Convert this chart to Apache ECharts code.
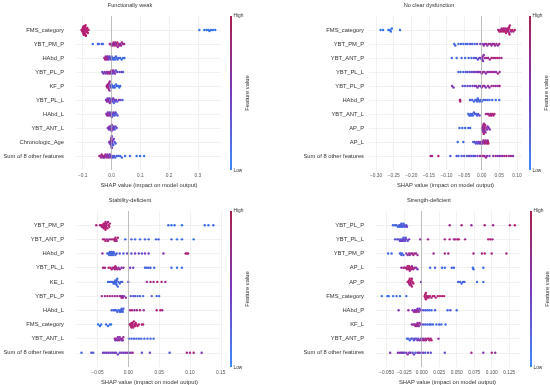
<!DOCTYPE html>
<html>
<head>
<meta charset="utf-8">
<script src="https://cdn.jsdelivr.net/npm/echarts@6/dist/echarts.min.js"></script>
<style>html,body{margin:0;padding:0;background:#fff}#c{width:550px;height:385px}</style>
</head>
<body>
<div id="c"></div>
<script>
// ---------- DATA ----------
const titles = ['Functionally weak', 'No clear dysfunction', 'Stability-deficient', 'Strength-deficient'];
const axisTitle = 'SHAP value (impact on model output)';

const fwFeatures = ['FMS_category','YBT_PM_P','HAbd_P','YBT_PL_P','KF_P','YBT_PL_L','HAbd_L','YBT_ANT_L','Chronologic_Age','Sum of 8 other features'];
const ncFeatures = ['FMS_category','YBT_PM_P','YBT_ANT_P','YBT_PL_L','YBT_PL_P','HAbd_P','YBT_ANT_L','AP_P','AP_L','Sum of 8 other features'];
const sdFeatures = ['YBT_PM_P','YBT_ANT_P','HAbd_P','YBT_PL_L','KE_L','YBT_PL_P','HAbd_L','FMS_category','YBT_ANT_L','Sum of 8 other features'];
const sfFeatures = ['YBT_PL_P','YBT_PL_L','YBT_PM_P','AP_L','AP_P','FMS_category','HAbd_P','KF_L','YBT_ANT_P','Sum of 8 other features'];

const fwTicks = [-0.1, 0, 0.1, 0.2, 0.3];
const ncTicks = [-0.30, -0.25, -0.20, -0.15, -0.10, -0.05, 0, 0.05, 0.10];
const sdTicks = [-0.05, 0, 0.05, 0.10, 0.15];
const sfTicks = [-0.050, -0.025, 0, 0.025, 0.050, 0.075, 0.100, 0.125];

// each row: [SHAP value, feature value (0 = low, 1 = high)]
const fwRows = [
 [[-0.104,1],[-0.102,1],[-0.101,1],[-0.1,1],[-0.1,0.9],[-0.099,1],[-0.098,1],[-0.098,0.9],[-0.097,1],[-0.096,1],[-0.096,1],[-0.095,1],[-0.095,0.9],[-0.094,1],[-0.094,1],[-0.093,1],[-0.093,1],[-0.092,1],[-0.092,0.9],[-0.091,1],[-0.09,1],[-0.09,1],[-0.089,1],[-0.088,1],[-0.087,0.9],[-0.086,1],[-0.085,1],[-0.084,1],[-0.082,1],[-0.08,1],
  [0.305,0],[0.322,0],[0.33,0.1],[0.336,0],[0.34,0],[0.345,0.1],[0.352,0],[0.36,0]],
 [[-0.065,0.1],[-0.047,0.15],[-0.044,0.1],[-0.034,0.2],[-0.03,0.1],[-0.006,0.7],[-0.003,0.8],[0,0.9],[0.002,0.6],[0.004,0.8],[0.007,1],[0.009,0.7],[0.011,0.9],[0.013,0.8],[0.016,0.6],[0.018,0.9],[0.02,1],[0.022,0.7],[0.025,0.8],[0.027,0.9],[0.03,0.6],[0.033,0.8],[0.036,0.9],[0.04,0.7],[0.044,0.8]],
 [[-0.025,0.8],[-0.022,0.9],[-0.02,0.7],[-0.018,0.9],[-0.016,0.8],[-0.014,0.6],[-0.012,0.7],[-0.01,0.5],[-0.008,0.4],[-0.005,0.3],[-0.002,0.3],[0,0.2],[0.003,0.2],[0.006,0.1],[0.009,0.2],[0.012,0.1],[0.015,0.2],[0.018,0.1],[0.021,0.1],[0.025,0.15],[0.03,0.1],[0.035,0.1],[0.04,0.05],[0.045,0.1]],
 [[-0.032,0.3],[-0.028,0.5],[-0.024,0.6],[-0.02,0.4],[-0.016,0.7],[-0.013,0.8],[-0.01,0.6],[-0.007,0.9],[-0.004,0.7],[-0.002,0.5],[0,0.8],[0.002,0.6],[0.004,0.4],[0.006,0.7],[0.009,0.5],[0.012,0.6],[0.015,0.3],[0.02,0.4],[0.028,0.3],[0.035,0.5],[0.04,0.2]],
 [[-0.017,0.8],[-0.015,0.9],[-0.013,1],[-0.012,0.8],[-0.011,0.9],[-0.01,0.7],[-0.009,0.9],[-0.008,0.8],[-0.007,0.6],[-0.006,0.7],[-0.004,0.4],[-0.002,0.3],[0,0.2],[0.003,0.1],[0.006,0.2],[0.009,0.1],[0.012,0.1],[0.015,0.15],[0.019,0.1],[0.023,0.1],[0.027,0.05],[0.03,0.1]],
 [[-0.019,0.5],[-0.016,0.7],[-0.014,0.4],[-0.012,0.8],[-0.01,0.6],[-0.008,0.5],[-0.006,0.7],[-0.004,0.3],[-0.002,0.6],[0,0.4],[0.002,0.5],[0.004,0.3],[0.006,0.6],[0.008,0.2],[0.01,0.4],[0.013,0.3],[0.016,0.5],[0.02,0.2],[0.026,0.6],[0.031,0.4],[0.038,0.2]],
 [[-0.018,0.6],[-0.015,0.7],[-0.013,0.5],[-0.011,0.8],[-0.009,0.6],[-0.007,0.4],[-0.005,0.7],[-0.003,0.5],[-0.001,0.3],[0.001,0.6],[0.003,0.4],[0.005,0.2],[0.007,0.5],[0.009,0.3],[0.011,0.2],[0.014,0.4],[0.017,0.2],[0.021,0.3]],
 [[-0.013,0.5],[-0.011,0.6],[-0.009,0.4],[-0.007,0.7],[-0.005,0.5],[-0.003,0.6],[-0.002,0.3],[0,0.5],[0.001,0.7],[0.003,0.4],[0.005,0.6],[0.007,0.3],[0.009,0.5],[0.011,0.2],[0.014,0.4],[0.018,0.3]],
 [[-0.008,0.6],[-0.006,0.5],[-0.004,0.7],[-0.003,0.4],[-0.002,0.6],[-0.001,0.5],[-0.001,0.8],[0,0.3],[0,0.6],[0.001,0.5],[0.001,0.4],[0.002,0.7],[0.003,0.3],[0.004,0.5],[0.006,0.2],[0.008,0.4],[0.011,0.3],[0.014,0.2]],
 [[-0.042,0.8],[-0.039,0.9],[-0.036,0.7],[-0.034,0.8],[-0.031,0.9],[-0.029,0.6],[-0.026,0.8],[-0.024,0.7],[-0.021,0.9],[-0.019,0.6],[-0.016,0.8],[-0.014,0.5],[-0.011,0.7],[-0.009,0.6],[-0.006,0.5],[-0.004,0.4],[-0.001,0.6],[0.002,0.3],[0.005,0.2],[0.009,0.3],[0.013,0.2],[0.018,0.1],[0.024,0.2],[0.03,0.1],[0.036,0.15],[0.047,0.1],[0.064,0.1],[0.087,0.05],[0.099,0.1],[0.113,0.05]]
];

const ncRows = [
 [[-0.287,0],[-0.28,0],[-0.265,0],[-0.26,0],[-0.258,0.1],[-0.255,0],[-0.232,0],
  [0.047,0.9],[0.05,1],[0.053,0.9],[0.055,1],[0.057,0.8],[0.059,1],[0.061,0.9],[0.063,1],[0.064,0.9],[0.066,1],[0.068,0.8],[0.069,1],[0.071,0.9],[0.072,1],[0.074,0.9],[0.075,1],[0.076,0.8],[0.077,1],[0.078,0.9],[0.078,1],[0.079,1],[0.08,0.9],[0.082,1],[0.084,0.8],[0.087,1],[0.09,0.9],[0.094,1]],
 [[-0.078,0.1],[-0.075,0.2],[-0.066,0.1],[-0.059,0.15],[-0.052,0.1],[-0.045,0.2],[-0.04,0.1],[-0.033,0.3],[-0.027,0.2],[-0.02,0.1],[-0.013,0.3],[-0.004,0.5],[0.003,0.6],[0.006,0.7],[0.009,0.5],[0.013,0.8],[0.016,0.6],[0.02,0.9],[0.025,0.7],[0.028,0.8],[0.031,0.6],[0.035,0.9],[0.038,0.7],[0.042,0.8],[0.046,0.6],[0.05,0.9]],
 [[-0.085,0.1],[-0.071,0.1],[-0.057,0.15],[-0.047,0.1],[-0.037,0.2],[-0.029,0.1],[-0.022,0.3],[-0.016,0.2],[-0.011,0.3],[-0.007,0.4],[-0.003,0.5],[0,0.4],[0.001,0.6],[0.002,0.5],[0.003,0.7],[0.004,0.5],[0.006,0.6],[0.009,0.8],[0.013,0.7],[0.018,0.9],[0.023,0.8],[0.028,1],[0.033,0.9],[0.038,0.8],[0.044,1],[0.05,0.9],[0.056,0.8]],
 [[-0.066,0.2],[-0.06,0.1],[-0.052,0.2],[-0.045,0.3],[-0.04,0.2],[-0.034,0.4],[-0.028,0.3],[-0.022,0.5],[-0.017,0.4],[-0.012,0.6],[-0.008,0.5],[-0.004,0.7],[0,0.6],[0.004,0.8],[0.008,0.7],[0.012,0.5],[0.016,0.8],[0.021,0.6],[0.026,0.9],[0.031,0.7],[0.036,0.8],[0.041,0.6],[0.046,0.9],[0.051,0.7]],
 [[-0.084,0.6],[-0.08,0.5],[-0.054,0.3],[-0.047,0.2],[-0.04,0.4],[-0.033,0.3],[-0.026,0.5],[-0.02,0.4],[-0.016,0.6],[-0.012,0.5],[-0.008,0.7],[-0.004,0.4],[0,0.6],[0.004,0.8],[0.008,0.7],[0.012,0.5],[0.018,0.8],[0.022,0.6],[0.028,0.9],[0.034,0.7],[0.04,0.8],[0.046,0.6],[0.051,0.9]],
 [[-0.062,1],[-0.061,0.9],[-0.061,1],[-0.033,0.1],[-0.027,0.2],[-0.022,0.1],[-0.018,0.15],[-0.015,0.1],[-0.013,0.2],[-0.011,0.1],[-0.009,0.15],[-0.006,0.1],[-0.003,0.2],[0,0.1],[0.005,0.15],[0.01,0.1],[0.016,0.2],[0.022,0.1],[0.03,0.15],[0.04,0.1],[0.05,0.1]],
 [[-0.038,0.1],[-0.035,0.2],[-0.032,0.1],[-0.03,0.15],[-0.027,0.2],[-0.025,0.1],[-0.022,0.2],[-0.019,0.3],[-0.016,0.1],[-0.013,0.2],[-0.01,0.3],[-0.006,0.4],[0.012,0.8],[0.016,0.9],[0.019,0.7],[0.022,1],[0.025,0.8],[0.027,0.9],[0.03,1],[0.033,0.8],[0.036,0.9]],
 [[-0.063,0.1],[-0.055,0.1],[-0.047,0.15],[-0.038,0.1],[-0.033,0.1],[0.001,0.6],[0.002,0.7],[0.003,0.8],[0.004,0.6],[0.005,0.9],[0.005,0.7],[0.006,0.8],[0.006,1],[0.007,0.7],[0.007,0.9],[0.008,0.8],[0.009,0.6],[0.01,0.9],[0.011,0.7],[0.013,0.8],[0.015,0.6],[0.017,0.7],[0.02,0.5],[0.023,0.6]],
 [[-0.068,0.1],[-0.052,0.1],[-0.024,0.2],[-0.02,0.3],[-0.017,0.2],[-0.014,0.4],[-0.011,0.3],[-0.008,0.5],[-0.005,0.4],[-0.003,0.6],[-0.001,0.5],[0.001,0.7],[0.003,0.6],[0.005,0.8],[0.007,0.7],[0.009,0.9],[0.011,0.8],[0.013,0.7],[0.015,0.9],[0.017,0.8],[0.018,0.9],[0.019,1]],
 [[-0.145,0.9],[-0.141,0.8],[-0.123,1],[-0.089,0.2],[-0.071,0.3],[-0.066,0.1],[-0.057,0.2],[-0.05,0.3],[-0.042,0.2],[-0.036,0.4],[-0.03,0.3],[-0.024,0.2],[-0.019,0.4],[-0.012,0.5],[-0.005,0.7],[0,0.8],[0.004,0.9],[0.008,0.7],[0.012,0.8],[0.015,0.6],[0.022,0.5],[0.033,0.6],[0.04,0.8],[0.046,0.5],[0.052,0.7],[0.058,0.6],[0.064,0.8],[0.07,0.9],[0.077,0.7],[0.083,0.8],[0.089,0.6]]
];

const sdRows = [
 [[-0.052,0.9],[-0.046,0.9],[-0.044,1],[-0.043,0.8],[-0.042,1],[-0.041,0.9],[-0.04,1],[-0.04,0.8],[-0.039,1],[-0.039,0.9],[-0.038,1],[-0.038,1],[-0.037,0.9],[-0.037,1],[-0.036,0.8],[-0.036,1],[-0.035,0.9],[-0.034,1],[-0.033,0.8],[-0.032,1],[-0.031,0.9],[-0.03,1],
  [0.065,0.1],[0.07,0],[0.075,0.1],[0.087,0],[0.124,0.1],[0.13,0],[0.138,0.1]],
 [[-0.041,0.8],[-0.039,0.9],[-0.037,1],[-0.035,0.8],[-0.033,0.9],[-0.031,0.7],[-0.028,0.9],[-0.025,1],[-0.023,0.8],[-0.022,1],[-0.021,0.9],[-0.02,1],[-0.019,0.8],[-0.017,0.9],[-0.005,0.1],[0.005,0.2],[0.011,0.1],[0.019,0.1],[0.027,0.2],[0.033,0.1],[0.045,0.1],[0.049,0.2],[0.07,0.1],[0.079,0],[0.087,0.1],[0.106,0]],
 [[-0.042,0.7],[-0.034,0.1],[-0.032,0.2],[-0.031,0.1],[-0.03,0.15],[-0.029,0.1],[-0.028,0.2],[-0.027,0.1],[-0.026,0.15],[-0.025,0.1],[-0.024,0.2],[-0.023,0.1],[-0.021,0.15],[-0.019,0.2],[-0.014,0.3],[-0.008,0.2],[-0.002,0.4],[0.005,0.3],[0.011,0.5],[0.017,0.4],[0.022,0.3],[0.027,0.5],[0.033,0.4],[0.057,0.6],[0.093,0.9],[0.095,1],[0.097,0.9]],
 [[-0.041,0.9],[-0.038,0.8],[-0.032,1],[-0.029,0.9],[-0.027,1],[-0.025,0.8],[-0.023,1],[-0.022,0.9],[-0.021,1],[-0.02,0.8],[-0.018,0.9],[-0.016,0.7],[-0.014,0.8],[-0.011,0.6],[-0.008,0.7],[0.003,0.5],[0.008,0.4],[0.027,0.1],[0.03,0.2],[0.033,0.1],[0.036,0.15],[0.042,0.1],[0.07,0.1],[0.079,0],[0.087,0.1]],
 [[-0.033,0.1],[-0.03,0.2],[-0.028,0.1],[-0.026,0.15],[-0.024,0.1],[-0.023,0.2],[-0.022,0.1],[-0.021,0.1],[-0.02,0.15],[-0.02,0.1],[-0.019,0.2],[-0.019,0.1],[-0.018,0.1],[-0.017,0.15],[-0.016,0.1],[-0.014,0.2],[-0.012,0.1],[-0.01,0.2],[0,0.3],[0.03,0.8],[0.036,0.9],[0.041,0.8],[0.047,1],[0.054,0.9],[0.06,0.8]],
 [[-0.043,0.8],[-0.038,0.7],[-0.034,0.9],[-0.03,0.8],[-0.026,0.7],[-0.022,0.9],[-0.018,0.6],[-0.014,0.8],[-0.012,0.7],[-0.011,0.9],[-0.01,0.6],[-0.009,0.8],[-0.007,0.5],[-0.004,0.7],[0.004,0.3],[0.008,0.2],[0.011,0.3],[0.015,0.1],[0.019,0.2],[0.024,0.1],[0.038,0.2],[0.046,0.1],[0.05,0.15]],
 [[-0.027,0.2],[-0.024,0.1],[-0.022,0.2],[-0.02,0.1],[-0.018,0.15],[-0.016,0.1],[-0.014,0.2],[-0.013,0.1],[-0.012,0.15],[-0.011,0.1],[-0.01,0.2],[-0.009,0.1],[-0.008,0.2],[0.003,0.8],[0.006,0.9],[0.01,0.7],[0.014,0.8],[0.019,0.9],[0.025,0.7],[0.046,0.9],[0.052,1],[0.055,0.8]],
 [[-0.049,0],[-0.046,0.1],[-0.044,0],[-0.036,0.1],[-0.033,0],[-0.03,0.1],[-0.028,0],[0.002,1],[0.003,0.9],[0.004,1],[0.005,1],[0.005,0.9],[0.006,1],[0.007,1],[0.007,0.9],[0.008,1],[0.009,1],[0.01,0.9],[0.011,1],[0.012,1],[0.013,0.9],[0.015,1],[0.017,1],[0.022,1],[0.024,0.9]],
 [[-0.022,0.7],[-0.021,0.5],[-0.02,0.8],[-0.018,0.6],[-0.017,0.7],[-0.016,0.5],[-0.015,0.8],[-0.014,0.6],[-0.012,0.7],[-0.011,0.5],[-0.01,0.8],[-0.009,0.6],[-0.008,0.7],[0.001,0.2],[0.005,0.1],[0.009,0.2],[0.013,0.1],[0.017,0.15],[0.021,0.1],[0.026,0.2],[0.031,0.1],[0.036,0.15],[0.041,0.1]],
 [[-0.076,0.1],[-0.06,0.3],[-0.057,0.2],[-0.041,0.5],[-0.038,0.3],[-0.035,0.6],[-0.032,0.4],[-0.029,0.5],[-0.026,0.3],[-0.023,0.6],[-0.02,0.4],[-0.017,0.5],[-0.014,0.3],[-0.011,0.6],[-0.008,0.4],[-0.005,0.5],[-0.002,0.7],[0.001,0.4],[0.004,0.6],[0.007,0.8],[0.022,0.3],[0.035,0.4],[0.067,0.2],[0.095,0.9],[0.1,0.8],[0.106,0.9],[0.119,0.6]]
];

const sfRows = [
 [[-0.041,0.1],[-0.038,0.2],[-0.036,0.1],[-0.034,0.15],[-0.032,0.2],[-0.031,0.1],[-0.03,0.3],[-0.029,0.1],[-0.029,0.2],[-0.028,0.15],[-0.027,0.2],[-0.026,0.1],[-0.025,0.3],[-0.024,0.2],[-0.022,0.3],[-0.021,0.4],[0.04,0.8],[0.057,0.9],[0.071,0.7],[0.09,0.9],[0.102,0.8],[0.126,0.9],[0.133,1]],
 [[-0.038,0.3],[-0.035,0.2],[-0.033,0.4],[-0.031,0.3],[-0.03,0.2],[-0.029,0.4],[-0.028,0.3],[-0.027,0.5],[-0.026,0.2],[-0.025,0.4],[-0.024,0.3],[-0.023,0.2],[-0.022,0.4],[-0.02,0.3],[-0.018,0.5],[-0.002,0.7],[0.009,0.8],[0.033,0.8],[0.04,0.9],[0.046,0.7],[0.048,0.9],[0.051,0.8],[0.053,1],[0.062,0.8],[0.095,0.9],[0.098,1],[0.101,0.8]],
 [[-0.048,0.1],[-0.043,0.1],[-0.031,0.2],[-0.03,0.1],[-0.029,0.2],[-0.028,0.1],[-0.026,0.2],[-0.022,0.6],[-0.02,0.7],[-0.018,0.8],[-0.017,0.6],[-0.015,0.9],[-0.013,0.7],[-0.012,0.8],[-0.01,0.9],[-0.008,0.7],[-0.006,0.8],[0.017,0.8],[0.033,0.9],[0.038,0.8],[0.074,0.9],[0.086,0.8],[0.09,1],[0.1,0.9],[0.121,0.9]],
 [[-0.029,0.7],[-0.026,0.9],[-0.024,0.8],[-0.022,1],[-0.021,0.9],[-0.02,0.8],[-0.019,1],[-0.018,0.9],[-0.018,1],[-0.017,0.8],[-0.016,1],[-0.015,0.9],[-0.014,0.7],[-0.013,1],[-0.012,0.8],[-0.01,0.9],[-0.008,0.6],[-0.006,0.5],[0.012,0.1],[0.019,0.2],[0.029,0.1],[0.033,0.1],[0.043,0.2],[0.046,0.1],[0.073,0],[0.074,0.1],[0.088,0.1]],
 [[-0.02,0.8],[-0.019,1],[-0.018,0.9],[-0.018,1],[-0.017,0.8],[-0.017,1],[-0.016,0.9],[-0.016,1],[-0.015,1],[-0.015,0.8],[-0.014,0.9],[-0.014,1],[-0.013,0.9],[-0.012,1],[-0.001,0.6],[0.052,0.1],[0.055,0.2],[0.057,0.1],[0.059,0.1],[0.061,0.2],[0.079,0.1],[0.088,0.1]],
 [[-0.057,0],[-0.049,0],[-0.047,0.1],[-0.041,0],[-0.036,0.1],[-0.031,0],[-0.022,0.1],[0.004,1],[0.005,0.9],[0.005,1],[0.006,1],[0.006,0.9],[0.007,1],[0.008,1],[0.009,0.9],[0.01,1],[0.012,1],[0.014,0.9],[0.016,1],[0.018,1],[0.02,0.9],[0.023,1],[0.026,1],[0.029,0.9],[0.032,1]],
 [[-0.033,0.6],[-0.019,0.7],[-0.013,0.6],[-0.011,0.8],[-0.01,0.5],[-0.009,0.7],[-0.008,0.6],[-0.007,0.9],[-0.006,0.5],[-0.005,0.7],[-0.004,0.6],[-0.003,0.4],[-0.001,0.5],[0.002,0.3],[0.005,0.2],[0.008,0.1],[0.011,0.2],[0.014,0.1],[0.019,0.15],[0.037,0.1],[0.041,0.2],[0.05,0.1]],
 [[-0.014,0.6],[-0.012,0.8],[-0.01,0.7],[-0.009,0.9],[-0.008,0.6],[-0.007,0.8],[-0.006,0.7],[-0.005,0.9],[-0.004,0.6],[-0.003,0.8],[-0.001,0.5],[0.002,0.3],[0.005,0.2],[0.008,0.1],[0.011,0.2],[0.013,0.1],[0.016,0.15],[0.021,0.1],[0.025,0.2],[0.028,0.1],[0.034,0.1]],
 [[-0.021,0.1],[-0.019,0.2],[-0.017,0.1],[-0.015,0.3],[-0.013,0.2],[-0.011,0.3],[-0.01,0.4],[-0.008,0.3],[-0.006,0.5],[-0.005,0.4],[-0.003,0.6],[-0.001,0.5],[0,0.7],[0.002,0.6],[0.003,0.8],[0.005,0.7],[0.006,0.9],[0.008,0.8],[0.01,1],[0.011,0.9],[0.013,0.8],[0.014,1],[0.024,0.7]],
 [[-0.045,0.6],[-0.034,0.5],[-0.031,0.7],[-0.029,0.4],[-0.027,0.6],[-0.025,0.3],[-0.022,0.5],[-0.02,0.7],[-0.018,0.4],[-0.016,0.6],[-0.013,0.3],[-0.011,0.5],[-0.009,0.2],[-0.006,0.4],[-0.004,0.6],[-0.001,0.3],[0.002,0.5],[0.005,0.2],[0.009,0.4],[0.013,0.3],[0.033,0.3],[0.071,0.8],[0.088,0.6],[0.1,0.9],[0.105,0.7]]
];

// ---------- STYLE / LAYOUT ----------
const LOW = '#2f74ea', MID = '#7b37c0', HIGH = '#b81e6e';
const CB_LOW = '#3d8af7', CB_MID = '#7b3ab8', CB_HIGH = '#a8204f';
const FONT = 'Liberation Sans';
const panels = [
  {feat: fwFeatures, rows: fwRows, ticks: fwTicks, dec: 1, grid: {left: 77, top: 16, width: 144, height: 154}, xmin: -0.1198, xmax: 0.380, labMargin: 13, cbx: 230, tx: 130, ty: 5},
  {feat: ncFeatures, rows: ncRows, ticks: ncTicks, dec: 2, grid: {left: 369, top: 16, width: 153, height: 154}, xmin: -0.320, xmax: 0.1145, labMargin: 5, cbx: 529, tx: 429, ty: 5},
  {feat: sdFeatures, rows: sdRows, ticks: sdTicks, dec: 2, grid: {left: 77, top: 211, width: 145, height: 156}, xmin: -0.0833, xmax: 0.152, labMargin: 13, cbx: 230, tx: 130, ty: 200},
  {feat: sfFeatures, rows: sfRows, ticks: sfTicks, dec: 3, grid: {left: 375, top: 211, width: 145, height: 156}, xmin: -0.0667, xmax: 0.1404, labMargin: 11, cbx: 530, tx: 429, ty: 200}
];

// beeswarm layout (vertical offsets only, like shap's)
function swarm(rows, xmin, xmax, widthPx) {
  const out = [];
  const binW = 2.0;
  rows.forEach((pts, r) => {
    const arr = pts.map(p => ({x: p[0], f: p[1], bin: Math.round((p[0] - xmin) / (xmax - xmin) * widthPx / binW)}));
    arr.sort((a, b) => a.bin - b.bin || a.x - b.x);
    let layer = 0, last = null;
    arr.forEach(p => {
      if (p.bin !== last) layer = 0;
      p.off = Math.ceil(layer / 2) * ((layer % 2) * 2 - 1);
      layer++; last = p.bin;
    });
    const maxOff = Math.max(1, ...arr.map(p => Math.abs(p.off)));
    const step = Math.min(0.11, 0.42 / maxOff);
    arr.forEach(p => out.push([p.x, r + p.off * step, p.f]));
  });
  return out;
}

const fmt = (v, d) => { const s = Math.abs(v).toFixed(d); return (v < -1e-9 ? '\u2212' : '') + s; };
const rowIdx = [0,1,2,3,4,5,6,7,8,9];

const option = {
  animation: false,
  backgroundColor: '#fff',
  grid: panels.map(p => Object.assign({containLabel: false, outerBoundsMode: 'none'}, p.grid)),
  xAxis: panels.map((p, i) => ({
    type: 'value', gridIndex: i, min: p.xmin, max: p.xmax,
    name: axisTitle, nameLocation: 'middle', nameGap: 12,
    nameTextStyle: {fontFamily: FONT, fontSize: 5.8, color: '#333'},
    axisLine: {show: false},
    axisTick: {show: false, customValues: p.ticks},
    axisLabel: {customValues: p.ticks, fontFamily: FONT, fontSize: 4.8, color: '#555', margin: 3,
      formatter: v => fmt(v, p.dec)},
    splitLine: {show: true, lineStyle: {color: '#e8e8e8', width: 0.6}}
  })),
  yAxis: panels.map((p, i) => ({
    type: 'value', gridIndex: i, min: -1, max: 10, inverse: true,
    axisLine: {show: false},
    axisTick: {show: false, customValues: rowIdx},
    axisLabel: {customValues: rowIdx, fontFamily: FONT, fontSize: 5.8, color: '#333', margin: p.labMargin,
      formatter: v => p.feat[Math.round(v)] || ''},
    splitLine: {show: true, lineStyle: {color: '#e8e8e8', width: 0.6}}
  })),
  visualMap: {
    type: 'continuous', show: false, min: 0, max: 1, dimension: 2,
    seriesIndex: [0, 1, 2, 3],
    inRange: {color: [LOW, MID, HIGH]}
  },
  series: panels.map((p, i) => ({
    type: 'scatter', xAxisIndex: i, yAxisIndex: i,
    symbolSize: 2.4, itemStyle: {opacity: 1},
    data: swarm(p.rows, p.xmin, p.xmax, p.grid.width),
    markLine: {silent: true, symbol: 'none', label: {show: false},
      lineStyle: {color: '#a8a8a8', width: 0.7, type: 'solid'},
      data: [{xAxis: 0}]},
    z: 3
  })),
  graphic: []
};

panels.forEach((p, i) => {
  const g = option.graphic;
  g.push({type: 'text', x: p.tx, y: p.ty, style: {text: titles[i], fontFamily: FONT, fontSize: 5.6, fill: '#333', align: 'center', verticalAlign: 'middle'}});
  g.push({type: 'rect', shape: {x: p.cbx, y: p.grid.top, width: 2, height: p.grid.height},
    style: {fill: new echarts.graphic.LinearGradient(0, 0, 0, 1, [{offset: 0, color: CB_HIGH}, {offset: 0.5, color: CB_MID}, {offset: 1, color: CB_LOW}])}});
  g.push({type: 'text', x: p.cbx + 3.5, y: p.grid.top, style: {text: 'High', fontFamily: FONT, fontSize: 4.8, fill: '#333', align: 'left', verticalAlign: 'middle'}});
  g.push({type: 'text', x: p.cbx + 3.5, y: p.grid.top + p.grid.height + 1, style: {text: 'Low', fontFamily: FONT, fontSize: 4.8, fill: '#333', align: 'left', verticalAlign: 'middle'}});
  g.push({type: 'text', x: p.cbx + 17, y: p.grid.top + p.grid.height * 0.5, rotation: Math.PI / 2,
    style: {text: 'Feature value', fontFamily: FONT, fontSize: 5.8, fill: '#333', align: 'center', verticalAlign: 'middle'}});
});

const chart = echarts.init(document.getElementById('c'), null, {renderer: 'canvas'});
chart.setOption(option);
</script>
</body>
</html>
